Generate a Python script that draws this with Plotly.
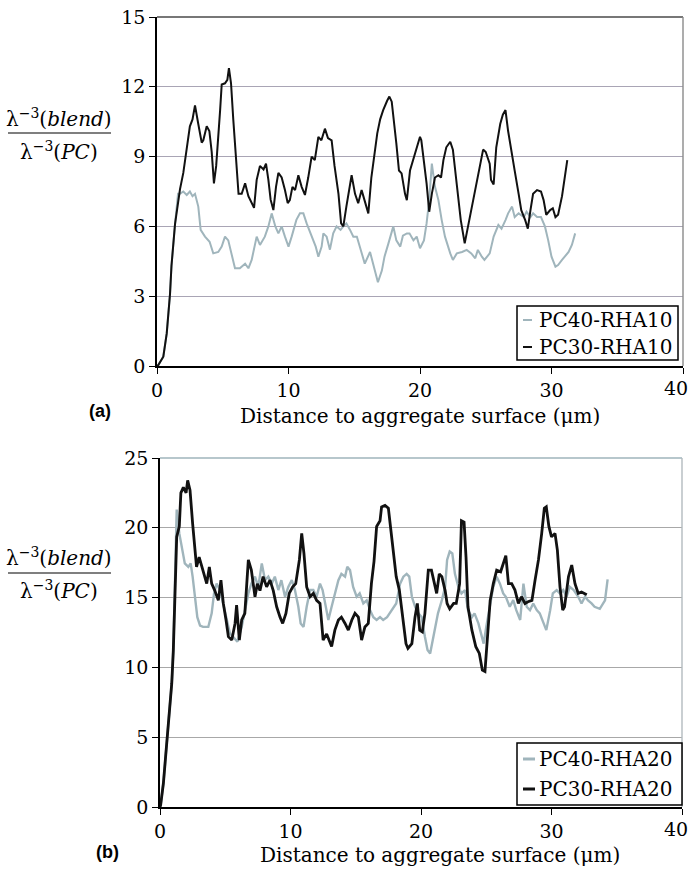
import plotly.graph_objects as go

# ---------------- data ----------------
x_pc30_rha10 = [0, 0.1, 0.48, 0.74, 0.99, 1.1, 1.37, 1.75, 2.0, 2.26, 2.5, 2.7, 2.89, 3.14, 3.4, 3.52, 3.78, 3.98,
                4.16, 4.33, 4.5, 4.8, 4.92, 5.17, 5.35, 5.47, 5.63, 5.8, 6.0, 6.2, 6.44, 6.7, 6.95, 7.2, 7.38, 7.58,
                7.83, 8.1, 8.29, 8.47, 8.64, 8.85, 9.05, 9.23, 9.48, 9.73, 9.94, 10.1, 10.3, 10.5, 10.75, 11.0,
                11.25, 11.5, 11.76, 12.0, 12.27, 12.5, 12.77, 13.0, 13.28, 13.5, 13.8, 14.0, 14.17, 14.4, 14.68,
                14.8, 15.06, 15.3, 15.56, 15.8, 16.07, 16.3, 16.55, 16.75, 16.97, 17.2, 17.5, 17.67, 17.85, 18.0,
                18.2, 18.4, 18.6, 18.86, 19.0, 19.24, 19.5, 19.75, 20.0, 20.1, 20.3, 20.5, 20.7, 20.9, 21.14, 21.4,
                21.6, 21.78, 22.0, 22.3, 22.5, 22.7, 22.9, 23.1, 23.4, 23.55, 23.8, 24.05, 24.3, 24.5, 24.8, 25.0,
                25.3, 25.4, 25.6, 25.8, 26.1, 26.3, 26.5, 26.7, 27.0, 27.2, 27.5, 27.7, 28.0, 28.2, 28.4, 28.6,
                28.9, 29.2, 29.4, 29.6, 29.9, 30.1, 30.3, 30.5, 30.8, 31.0, 31.2]
y_pc30_rha10 = [0.0, 0.04, 0.4, 1.4, 3.1, 4.3, 6.1, 7.6, 8.3, 9.3, 10.3, 10.6, 11.2, 10.4, 9.6, 9.7, 10.3, 10.1,
                9.2, 7.85, 8.6, 11.0, 12.1, 12.15, 12.3, 12.8, 12.15, 10.6, 8.85, 7.4, 7.4, 7.85, 7.3, 7.0, 6.8, 8.0,
                8.6, 8.45, 8.7, 8.0, 7.15, 6.7, 7.7, 8.3, 8.1, 7.56, 7.0, 7.13, 7.7, 7.56, 8.2, 7.7,
                7.35, 8.1, 9.0, 8.85, 9.85, 9.7, 10.2, 9.8, 9.7, 8.6, 7.4, 6.13, 6.0, 6.85, 7.85,
                8.2, 7.4, 7.0, 7.56, 7.13, 6.56, 8.1, 9.2, 10.0, 10.6, 11.0, 11.4, 11.58, 11.36, 10.7,
                9.57, 8.4, 8.28, 7.4, 7.13, 8.4, 8.9, 9.4, 9.85, 9.7, 8.85, 7.85, 6.63, 7.4, 8.1, 8.2,
                8.1, 8.85, 9.4, 9.64, 9.3, 8.28, 7.4, 6.27, 5.27, 5.7, 6.4, 7.13, 7.85, 8.57, 9.3, 9.2,
                8.7, 8.0, 7.8, 9.4, 10.4, 10.8, 11.0, 10.1, 9.0, 8.4, 7.4, 6.7, 6.27, 5.9, 6.7, 7.4,
                7.56, 7.5, 7.13, 6.5, 6.7, 6.78, 6.4, 6.5, 7.3, 8.1, 8.85]

x_pc40_rha10 = [0, 0.1, 0.48, 0.74, 0.99, 1.1, 1.37, 1.6, 1.75, 2.0, 2.26, 2.5, 2.7, 2.89, 3.14, 3.32, 3.65, 4.0,
                4.28, 4.66, 4.92, 5.17, 5.42, 5.68, 5.93, 6.3, 6.7, 6.95, 7.2, 7.58, 7.83, 8.2, 8.47, 8.72, 9.0,
                9.23, 9.48, 9.73, 10.0, 10.24, 10.6, 10.87, 11.13, 11.38, 11.76, 12.07, 12.27, 12.52, 12.65, 12.9,
                13.15, 13.4, 13.66, 13.96, 14.17, 14.4, 14.68, 14.93, 15.2, 15.43, 15.8, 16.2, 16.45, 16.8, 17.1,
                17.3, 17.6, 17.97, 18.2, 18.5, 18.7, 19.0, 19.2, 19.5, 19.75, 20.0, 20.3, 20.5, 20.7, 20.9, 21.14,
                21.4, 21.65, 21.9, 22.3, 22.5, 22.8, 23.2, 23.55, 23.9, 24.2, 24.4, 24.7, 24.9, 25.3, 25.6, 25.96,
                26.2, 26.5, 26.7, 27.0, 27.2, 27.5, 27.9, 28.1, 28.4, 28.6, 28.9, 29.2, 29.5, 29.75, 30.0, 30.3,
                30.5, 30.8, 31.0, 31.3, 31.55, 31.8]
y_pc40_rha10 = [0.0, 0.04, 0.4, 1.4, 3.1, 4.3, 6.1, 7.4, 7.4, 7.5, 7.35, 7.5, 7.3, 7.4, 6.85, 5.85, 5.56, 5.34,
                4.84, 4.9, 5.13, 5.56, 5.4, 4.84, 4.2, 4.2, 4.4, 4.2, 4.56, 5.56, 5.2, 5.56, 6.0, 6.56, 6.0,
                5.7, 6.0, 5.56, 5.13, 5.56, 6.28, 6.56, 6.56, 6.13, 5.56, 5.13, 4.7, 5.13, 5.7, 5.56,
                5.0, 5.7, 6.0, 5.85, 6.0, 6.13, 5.85, 5.56, 5.56, 5.13, 4.4, 4.9, 4.4, 3.6, 4.1,
                4.7, 5.27, 6.0, 5.4, 5.13, 5.6, 5.7, 5.7, 5.4, 5.56, 5.06, 5.4, 6.13, 7.13, 8.7, 7.7,
                7.13, 6.27, 5.56, 4.84, 4.56, 4.84, 4.9, 4.99, 4.84, 4.63, 4.99, 4.7, 4.56, 4.84, 5.56, 6.06,
                5.9, 6.27, 6.56, 6.85, 6.4, 6.56, 6.4, 6.63, 6.4, 6.56, 6.4, 6.4, 6.0, 5.4, 4.7, 4.27,
                4.34, 4.56, 4.7, 4.9, 5.2, 5.7]

x_pc30_rha20 = [0, 0.05, 0.26, 0.5, 0.72, 0.9, 1.02, 1.15, 1.28, 1.48, 1.6, 1.79, 2.0, 2.12, 2.3, 2.5, 2.68, 2.8,
                3.0, 3.2, 3.37, 3.58, 3.78, 3.96, 4.2, 4.47, 4.67, 4.85, 5.06, 5.24, 5.5, 5.75, 5.87, 6.08, 6.26,
                6.5, 6.77, 7.0, 7.28, 7.46, 7.66, 7.9, 8.17, 8.43, 8.68, 8.94, 9.2, 9.4, 9.65, 9.9, 10.17, 10.4,
                10.68, 10.86, 11.03, 11.24, 11.5, 11.75, 12.0, 12.26, 12.5, 12.77, 13.15, 13.4, 13.67, 13.9,
                14.18, 14.43, 14.7, 14.94, 15.2, 15.45, 15.7, 15.96, 16.2, 16.4, 16.6, 16.86, 16.98, 17.24, 17.5,
                17.7, 17.9, 18.1, 18.34, 18.6, 18.85, 19.0, 19.3, 19.54, 19.72, 19.9, 20.1, 20.3, 20.56, 20.8,
                20.99, 21.2, 21.4, 21.6, 21.85, 22.0, 22.2, 22.5, 22.7, 22.96, 23.1, 23.3, 23.45, 23.6, 23.9,
                24.2, 24.47, 24.7, 24.9, 25.1, 25.3, 25.54, 25.8, 26.1, 26.3, 26.5, 26.7, 26.95, 27.2, 27.46,
                27.7, 27.97, 28.2, 28.5, 28.74, 29.0, 29.25, 29.45, 29.6, 29.8, 30.0, 30.27, 30.45, 30.65, 30.86,
                31.0, 31.3, 31.55, 31.8, 32.05, 32.3, 32.57, 32.7]
y_pc30_rha20 = [0.0, 0.14, 1.7, 4.56, 6.5, 8.85, 11.2, 15.06, 19.35, 20.1, 22.5, 22.9, 22.5, 23.4, 22.7, 20.3, 18.2,
                17.2, 17.9, 17.2, 16.7, 16.0, 17.2, 16.0, 15.5, 14.8, 16.25, 14.6, 13.4, 12.2, 11.96, 13.15, 14.46,
                11.96, 13.4, 13.87, 17.7, 16.97, 15.06, 16.0, 15.5, 16.5, 15.77, 16.25, 15.5, 14.34, 13.6, 13.15,
                13.87, 15.3, 15.77, 16.0, 17.7, 19.6, 18.16, 15.77, 15.06, 15.3, 14.8, 14.58, 11.96, 12.4, 11.5,
                12.67, 13.4, 13.6, 13.15, 12.67, 13.4, 13.87, 13.6, 11.96, 12.9, 13.15, 16.0, 17.6, 20.1, 20.5,
                21.5, 21.6, 21.4, 19.8, 18.16, 16.5, 15.54, 13.6, 11.7, 11.36, 11.7, 13.6, 14.58, 12.67, 12.55,
                13.87, 16.97, 16.97, 16.25, 15.3, 16.7, 16.5, 15.5, 14.58, 14.2, 14.58, 14.58, 16.0, 20.5, 20.4,
                17.9, 14.34, 12.67, 11.48, 11.0, 9.8, 9.7, 12.2, 14.8, 16.0, 16.97, 16.85, 17.45, 18.0, 16.0,
                16.0, 15.54, 14.58, 15.06, 14.58, 14.7, 14.8, 16.25, 17.7, 19.6, 21.4, 21.5, 20.1, 19.35, 19.6,
                18.4, 15.77, 14.1, 14.34, 16.5, 17.33, 16.0, 15.3, 15.4, 15.3, 15.2]

x_pc40_rha20 = [0, 0.05, 0.26, 0.5, 0.72, 0.9, 1.02, 1.12, 1.2, 1.28, 1.48, 1.66, 1.9, 2.17, 2.35, 2.5, 2.68, 2.86,
                3.07, 3.3, 3.7, 3.96, 4.14, 4.34, 4.6, 4.85, 5.1, 5.36, 5.6, 5.93, 6.26, 6.5, 6.77, 7.0, 7.28,
                7.53, 7.8, 8.05, 8.3, 8.56, 8.8, 9.07, 9.3, 9.58, 9.83, 10.1, 10.34, 10.6, 10.78, 11.0, 11.24,
                11.5, 11.75, 12.0, 12.26, 12.46, 12.64, 12.9, 13.15, 13.4, 13.67, 13.9, 14.18, 14.35, 14.56,
                14.8, 15.07, 15.3, 15.58, 15.84, 16.1, 16.35, 16.6, 16.86, 17.1, 17.4, 17.6, 17.88, 18.1, 18.4,
                18.65, 18.9, 19.1, 19.3, 19.55, 19.8, 20.05, 20.3, 20.5, 20.7, 20.9, 21.1, 21.3, 21.6, 21.85,
                22.0, 22.2, 22.4, 22.6, 22.86, 23.1, 23.37, 23.6, 23.9, 24.1, 24.4, 24.65, 24.8, 25.0, 25.3,
                25.54, 25.8, 26.05, 26.3, 26.5, 26.8, 27.07, 27.3, 27.6, 27.85, 28.1, 28.35, 28.6, 28.87, 29.1,
                29.4, 29.6, 29.9, 30.1, 30.4, 30.65, 30.9, 31.16, 31.4, 31.7, 32.05, 32.3, 32.57, 32.8, 33.07,
                33.3, 33.7, 34.1, 34.3]
y_pc40_rha20 = [0.0, 0.14, 1.7, 4.56, 6.5, 8.85, 11.2, 15.0, 19.0, 21.3, 19.6, 18.6, 17.45, 17.2, 17.45, 16.5, 14.8,
                13.6, 13.0, 12.9, 12.9, 13.87, 15.3, 16.0, 15.54, 14.58, 13.4, 12.43, 12.2, 11.84, 12.9, 14.1,
                15.3, 16.0, 16.5, 15.77, 17.45, 16.25, 16.5, 16.0, 16.5, 15.54, 16.25, 15.06, 15.77, 16.25,
                15.54, 14.34, 13.15, 12.9, 14.34, 15.54, 15.54, 15.06, 16.0, 15.54, 14.58, 13.4, 14.34, 15.3,
                16.25, 16.7, 16.5, 17.2, 16.97, 15.77, 15.06, 15.3, 14.58, 14.8, 14.1, 13.6, 13.4, 13.6, 13.4,
                13.6, 13.87, 14.34, 14.58, 16.0, 16.5, 16.7, 16.5, 15.06, 14.34, 13.87, 13.6, 12.2, 11.24, 11.0,
                11.96, 12.9, 13.87, 14.82, 15.77, 17.7, 18.3, 18.16, 16.7, 15.77, 15.3, 15.54, 14.1, 13.6, 13.87,
                13.15, 12.2, 11.7, 12.9, 14.58, 15.77, 16.5, 16.0, 15.3, 15.06, 14.34, 14.82, 14.1, 13.4, 16.0,
                14.34, 14.1, 14.58, 14.1, 13.87, 13.15, 12.67, 14.1, 15.3, 15.54, 15.3, 15.54, 15.06, 15.77,
                15.54, 15.06, 14.58, 15.06, 14.8, 14.58, 14.34, 14.2, 14.8, 16.3]

x_ticks = [0, 10, 20, 30, 40]
x_ticktext = ["0", "10", "20", "30", ""]   # the last label (40) is placed as an annotation so it is not cut
x_last_label = "40"
y_ticks_a = [0, 3, 6, 9, 12, 15]
y_ticks_b = [0, 5, 10, 15, 20, 25]
label_a = "PC40-RHA10"
label_a2 = "PC30-RHA10"
label_b = "PC40-RHA20"
label_b2 = "PC30-RHA20"
x_title = "Distance to aggregate surface (μm)"
y_num = "λ<sup>−3</sup>(<i>blend</i>)"
y_den = "λ<sup>−3</sup>(<i>PC</i>)"

# ---------------- styling ----------------
W, H = 692, 870
SERIF = "DejaVu Serif"
GREY = "#a0b5bc"
BLACK = "#111111"


def px(v):
    return v / W


def py(v):
    return 1 - v / H


fig = go.Figure()
fig.add_trace(go.Scatter(x=x_pc40_rha10, y=y_pc40_rha10, mode="lines", name=label_a,
                         line=dict(color=GREY, width=2), xaxis="x", yaxis="y", showlegend=False))
fig.add_trace(go.Scatter(x=x_pc30_rha10, y=y_pc30_rha10, mode="lines", name=label_a2,
                         line=dict(color=BLACK, width=2), xaxis="x", yaxis="y", showlegend=False))
fig.add_trace(go.Scatter(x=x_pc40_rha20, y=y_pc40_rha20, mode="lines", name=label_b,
                         line=dict(color=GREY, width=2.4), xaxis="x2", yaxis="y2", showlegend=False))
fig.add_trace(go.Scatter(x=x_pc30_rha20, y=y_pc30_rha20, mode="lines", name=label_b2,
                         line=dict(color=BLACK, width=2.8), xaxis="x2", yaxis="y2", showlegend=False))

tickfont = dict(family=SERIF, size=19, color="black")
xcommon = dict(range=[0, 40], tickvals=x_ticks, ticktext=x_ticktext, ticks="outside", ticklen=6, tickwidth=1.3,
               tickcolor="black", showline=True, linecolor="black", linewidth=1.5, showgrid=False, zeroline=False,
               tickfont=tickfont, fixedrange=True)
ycommon = dict(ticks="outside", ticklen=6, tickwidth=1.3, tickcolor="black", showline=True, linecolor="black",
               linewidth=1.5, showgrid=True, gridwidth=1.3, zeroline=False, tickfont=tickfont, fixedrange=True,
               ticklabeloverflow="allow")

fig.update_layout(
    width=W, height=H, margin=dict(l=0, r=0, t=0, b=0, autoexpand=False),
    paper_bgcolor="white", plot_bgcolor="white", showlegend=False,
    xaxis=dict(domain=[px(157), px(683)], anchor="y", **xcommon),
    yaxis=dict(domain=[py(366), py(17)], anchor="x", range=[0, 15], tickvals=y_ticks_a,
               gridcolor="#a9a5b5", **ycommon),
    xaxis2=dict(domain=[px(160), px(682)], anchor="y2", **xcommon),
    yaxis2=dict(domain=[py(807), py(458)], anchor="x2", range=[0, 25], tickvals=y_ticks_b,
                gridcolor="#a8a8a8", **ycommon),
)

shapes = [
    # frame lines (top / right) of panel (a)
    dict(type="line", xref="x domain", yref="y domain", x0=0, x1=1, y0=1, y1=1, line=dict(color="#4a4a4a", width=1.6)),
    dict(type="line", xref="x domain", yref="y domain", x0=1, x1=1, y0=0, y1=1, line=dict(color="#8a8a8a", width=1.4)),
    # frame lines (top / right) of panel (b)
    dict(type="line", xref="x2 domain", yref="y2 domain", x0=0, x1=1, y0=1, y1=1, line=dict(color="#9fb4bb", width=1.6)),
    dict(type="line", xref="x2 domain", yref="y2 domain", x0=1, x1=1, y0=0, y1=1, line=dict(color="#b3bbbf", width=1.4)),
    # fraction bars of y labels
    dict(type="line", xref="paper", yref="paper", x0=px(8), x1=px(111), y0=py(133), y1=py(133),
         line=dict(color="black", width=1.2)),
    dict(type="line", xref="paper", yref="paper", x0=px(8), x1=px(111), y0=py(573), y1=py(573),
         line=dict(color="black", width=1.2)),
    # legend boxes
    dict(type="rect", xref="paper", yref="paper", x0=px(517), x1=px(678), y0=py(360), y1=py(306),
         line=dict(color="black", width=1.5), fillcolor="white", layer="above"),
    dict(type="rect", xref="paper", yref="paper", x0=px(517), x1=px(682), y0=py(805), y1=py(743),
         line=dict(color="black", width=1.5), fillcolor="white", layer="above"),
    # legend line samples
    dict(type="line", xref="paper", yref="paper", x0=px(523), x1=px(532), y0=py(320), y1=py(320),
         line=dict(color=GREY, width=2), layer="above"),
    dict(type="line", xref="paper", yref="paper", x0=px(523), x1=px(532), y0=py(347), y1=py(347),
         line=dict(color=BLACK, width=2), layer="above"),
    dict(type="line", xref="paper", yref="paper", x0=px(523), x1=px(535), y0=py(759), y1=py(759),
         line=dict(color=GREY, width=3), layer="above"),
    dict(type="line", xref="paper", yref="paper", x0=px(523), x1=px(535), y0=py(789), y1=py(789),
         line=dict(color=BLACK, width=3), layer="above"),
]
fig.update_layout(shapes=shapes)

afont = dict(family=SERIF, size=20, color="black")


def ann(text, x, y, xanchor="center", font=afont):
    return dict(text=text, x=px(x), y=py(y), xref="paper", yref="paper", showarrow=False, font=font,
                xanchor=xanchor, yanchor="middle")


annotations = [
    ann(y_num, 59, 118),
    ann(y_den, 59, 151),
    ann(y_num, 59, 557),
    ann(y_den, 59, 590),
    ann(x_title, 420, 416),
    ann(x_title, 440, 855),
    ann("<b>(a)</b>", 100, 411, font=dict(family="Liberation Sans", size=18, color="black")),
    ann("<b>(b)</b>", 107, 852, font=dict(family="Liberation Sans", size=18, color="black")),
    ann(label_a, 537, 320, xanchor="left"),
    ann(label_a2, 537, 347, xanchor="left"),
    ann(label_b, 537, 759, xanchor="left"),
    ann(label_b2, 537, 789, xanchor="left"),
    ann(x_last_label, 690, 388, xanchor="right", font=tickfont),
    ann(x_last_label, 690, 829, xanchor="right", font=tickfont),
]
fig.update_layout(annotations=annotations)

fig.write_html("out.html")
